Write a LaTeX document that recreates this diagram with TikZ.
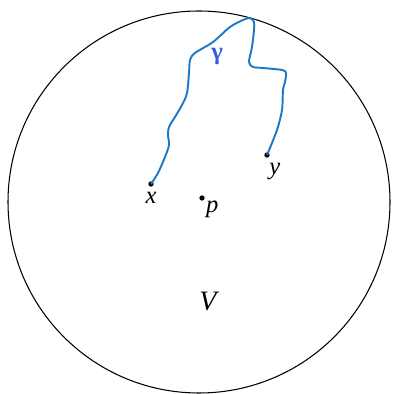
\documentclass[tikz,border=0pt]{standalone}
\usepackage{fontspec}
\setmainfont{Liberation Serif}
\usepackage{tikz}
\usetikzlibrary{positioning}

\definecolor{curveblue}{RGB}{30,120,200}
\definecolor{labelblue}{RGB}{50,90,230}

\begin{document}
\begin{tikzpicture}[
    x=0.02cm, y=-0.02cm,
    pt/.style={circle, fill=black, inner sep=0pt, minimum size=3pt},
    lbl/.style={font=\fontsize{14}{16}\selectfont\itshape, inner sep=1pt},
    path/.style={curveblue, line width=1.1pt}
]
\useasboundingbox (0,0) rectangle (395,394);

% Region V
\draw[line width=0.6pt] (199,202) circle [radius=191];
\node[lbl, font=\fontsize{16}{18}\selectfont\itshape] (vlabel) at (208,302) {V};

% Points
\node[pt] (x) at (151,184) {};
\node[pt] (y) at (267,155) {};
\node[pt] (p) at (202,198) {};
\node[lbl, below=1.5pt of x] (xlabel) {x};
\node[lbl, below right=2pt and -1pt of y] (ylabel) {y};
\node[lbl, below right=-1pt and 0pt of p] (plabel) {p};

% Path gamma from x to y
\draw[path] plot[smooth, tension=0.5] coordinates {
    (x) (158,173) (165,157) (169,145) (168,135) (169,127) (175,117)
    (182,105) (187,93) (189,73) (190,60) (195,53) (213,42) (230,27)
    (243,20) (250,18) (254,22) (254,30) (252,47) (249,62) (253,67)
    (263,68) (282,70) (286,73) (285,82) (283,90) (282,110) (277,130) (y)};
\node[lbl, labelblue, font=\fontsize{14}{16}\selectfont\bfseries] (gamma) at (217,56) {γ};

\end{tikzpicture}
\end{document}
